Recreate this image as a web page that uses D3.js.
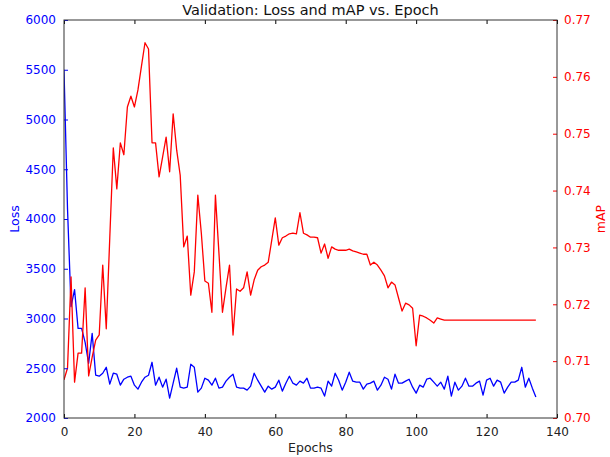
<!DOCTYPE html>
<html>
<head>
<meta charset="utf-8">
<script src="https://cdn.jsdelivr.net/npm/d3@7/dist/d3.min.js"></script>
<style>
  html, body { margin: 0; padding: 0; background: #fff; }
  svg { display: block; font-family: "DejaVu Sans", sans-serif; }
</style>
</head>
<body>
<svg id="chart" width="610" height="457"></svg>
<script>
// ---- data ----
const lossValues = [
  5500, 4100, 3120, 3290, 2900, 2900, 2760, 2550, 2850, 2430,
  2420, 2450, 2510, 2340, 2450, 2440, 2330, 2390, 2410, 2420,
  2330, 2290, 2360, 2410, 2430, 2560, 2330, 2410, 2310, 2390,
  2200, 2350, 2500, 2310, 2300, 2310, 2540, 2510, 2260, 2300,
  2400, 2380, 2330, 2400, 2300, 2310, 2370, 2410, 2440, 2310,
  2300, 2300, 2280, 2320, 2450, 2380, 2320, 2260, 2320, 2290,
  2310, 2380, 2270, 2350, 2420, 2350, 2330, 2370, 2350, 2400,
  2300, 2300, 2310, 2300, 2220, 2370, 2320, 2450, 2380, 2280,
  2360, 2460, 2370, 2360, 2360, 2290, 2340, 2350, 2370, 2280,
  2330, 2410, 2390, 2290, 2440, 2350, 2350, 2370, 2390, 2310,
  2250, 2330, 2310, 2390, 2400, 2360, 2320, 2360, 2290, 2420,
  2220, 2360, 2280, 2320, 2400, 2320, 2320, 2350, 2370, 2230,
  2380, 2400, 2320, 2380, 2360, 2250, 2310, 2360, 2360, 2380,
  2510, 2310, 2400, 2300, 2210
];
const mapValues = [
  0.7067, 0.7088, 0.7248, 0.7063, 0.7114, 0.7114, 0.7229, 0.7074, 0.7107, 0.7137,
  0.7146, 0.7269, 0.7157, 0.7317, 0.7475, 0.7403, 0.7484, 0.7463, 0.7547, 0.7566,
  0.7547, 0.7577, 0.7619, 0.7660, 0.7649, 0.7484, 0.7484, 0.7424, 0.7459, 0.7494,
  0.7433, 0.7535, 0.7471, 0.7427, 0.7301, 0.7320, 0.7216, 0.7257, 0.7392, 0.7325,
  0.7241, 0.7237, 0.7186, 0.7392, 0.7290, 0.7186, 0.7229, 0.7269, 0.7146, 0.7227,
  0.7223, 0.7229, 0.7257, 0.7216, 0.7243, 0.7260, 0.7266, 0.7269, 0.7274, 0.7313,
  0.7352, 0.7304, 0.7317, 0.7320, 0.7324, 0.7325, 0.7324, 0.7361, 0.7325, 0.7322,
  0.7318, 0.7318, 0.7317, 0.7290, 0.7306, 0.7281, 0.7301, 0.7297, 0.7295, 0.7295,
  0.7295, 0.7297, 0.7294, 0.7292, 0.7290, 0.7288, 0.7288, 0.7269, 0.7274, 0.7269,
  0.7260, 0.7250, 0.7229, 0.7239, 0.7234, 0.7211, 0.7188, 0.7202, 0.7199, 0.7193,
  0.7127, 0.7181, 0.7179, 0.7176, 0.7172, 0.7167, 0.7176, 0.7174, 0.7172, 0.7172,
  0.7172, 0.7172, 0.7172, 0.7172, 0.7172, 0.7172, 0.7172, 0.7172, 0.7172, 0.7172,
  0.7172, 0.7172, 0.7172, 0.7172, 0.7172, 0.7172, 0.7172, 0.7172, 0.7172, 0.7172,
  0.7172, 0.7172, 0.7172, 0.7172, 0.7172
];
const epochs = lossValues.map((_, i) => i);
const xTicks = [0, 20, 40, 60, 80, 100, 120, 140];
const lossTicks = [2000, 2500, 3000, 3500, 4000, 4500, 5000, 5500, 6000];
const mapTicks = [0.70, 0.71, 0.72, 0.73, 0.74, 0.75, 0.76, 0.77];
const titleText = "Validation: Loss and mAP vs. Epoch";
const xLabel = "Epochs", lossLabel = "Loss", mapLabel = "mAP";

// ---- layout ----
const L = 64, R = 557, T = 20, B = 418;
const svg = d3.select("#chart");
const x = d3.scaleLinear().domain([0, 140]).range([L, R]);
const yL = d3.scaleLinear().domain([2000, 6000]).range([B, T]);
const yR = d3.scaleLinear().domain([0.70, 0.77]).range([B, T]);

const blue = "#0000ff", red = "#ff0000";

// lines
const lossLine = d3.line().x((d, i) => x(epochs[i])).y(d => yL(d));
const mapLine = d3.line().x((d, i) => x(epochs[i])).y(d => yR(d));

svg.append("clipPath").attr("id", "clip")
  .append("rect").attr("x", L).attr("y", T).attr("width", R - L).attr("height", B - T);

svg.append("path").datum(lossValues)
  .attr("d", lossLine).attr("fill", "none").attr("stroke", blue)
  .attr("stroke-width", 1.3).attr("stroke-linejoin", "round").attr("clip-path", "url(#clip)");
svg.append("path").datum(mapValues)
  .attr("d", mapLine).attr("fill", "none").attr("stroke", red)
  .attr("stroke-width", 1.3).attr("stroke-linejoin", "round").attr("clip-path", "url(#clip)");

// axes (inward ticks)
const fs = 12;
function styleAxis(g, color) {
  g.select(".domain").remove();
  g.selectAll("line").attr("stroke", color);
  g.selectAll("text").attr("fill", color).style("font-size", fs + "px")
    .style("font-family", "'DejaVu Sans', sans-serif");
}
const xAxisB = svg.append("g").attr("transform", `translate(0,${B})`)
  .call(d3.axisBottom(x).tickValues(xTicks).tickSizeInner(-4).tickSizeOuter(0).tickPadding(9).tickFormat(d3.format("d")));
styleAxis(xAxisB, "#000");
xAxisB.selectAll("text").attr("fill", "#222");
const xAxisT = svg.append("g").attr("transform", `translate(0,${T})`)
  .call(d3.axisTop(x).tickValues(xTicks).tickSizeInner(-4).tickSizeOuter(0).tickFormat(""));
styleAxis(xAxisT, "#000");

const yAxisL = svg.append("g").attr("transform", `translate(${L},0)`)
  .call(d3.axisLeft(yL).tickValues(lossTicks).tickSizeInner(-4).tickSizeOuter(0).tickPadding(8).tickFormat(d3.format("d")));
styleAxis(yAxisL, blue);
const yAxisR = svg.append("g").attr("transform", `translate(${R},0)`)
  .call(d3.axisRight(yR).tickValues(mapTicks).tickSizeInner(-4).tickSizeOuter(0).tickPadding(7).tickFormat(d3.format(".2f")));
styleAxis(yAxisR, red);

// frame
svg.append("rect").attr("x", L).attr("y", T).attr("width", R - L).attr("height", B - T)
  .attr("fill", "none").attr("stroke", "#333").attr("stroke-width", 1);

// labels
svg.append("text").attr("x", (L + R) / 2).attr("y", 15).attr("text-anchor", "middle")
  .style("font-size", "14.5px").attr("fill", "#111").text(titleText);
svg.append("text").attr("x", (L + R) / 2).attr("y", 452).attr("text-anchor", "middle")
  .style("font-size", "12.5px").attr("fill", "#222").text(xLabel);
svg.append("text").attr("transform", `translate(19,${(T + B) / 2}) rotate(-90)`)
  .attr("text-anchor", "middle").style("font-size", "12.5px").attr("fill", blue).text(lossLabel);
svg.append("text").attr("transform", `translate(605,${(T + B) / 2}) rotate(-90)`)
  .attr("text-anchor", "middle").style("font-size", "12.5px").attr("fill", red).text(mapLabel);
</script>
</body>
</html>
